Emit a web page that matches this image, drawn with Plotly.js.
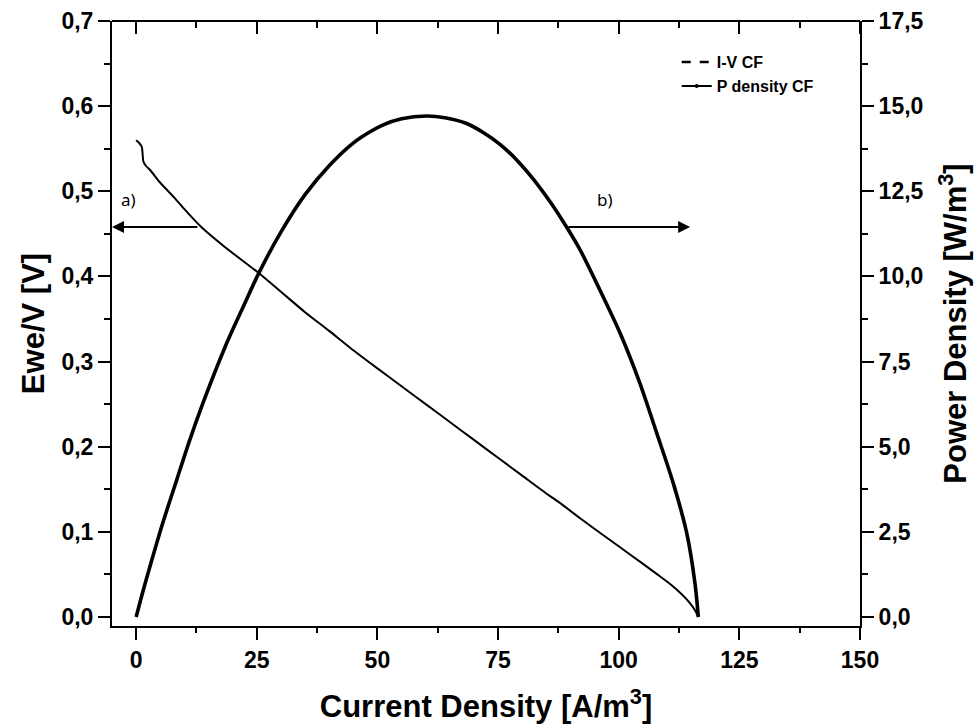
<!DOCTYPE html>
<html>
<head>
<meta charset="utf-8">
<script src="https://cdn.plot.ly/plotly-3.0.1.min.js"></script>
<style>html,body{margin:0;padding:0;background:#fff;}#chart{width:980px;height:728px;}</style>
</head>
<body>
<div id="chart"></div>
<script>
// I-V curve (Current density [A/m3], Ewe/V [V])
const ivCurrent = [0.0, 0.6, 1.18, 1.5, 2.0, 2.9, 5.0, 8.0, 10.0, 13.5, 18.5, 25.4, 30, 35, 40, 44.4, 50, 55, 60, 65, 70, 75, 80, 85, 87.8, 92, 96.1, 100, 104.4, 108, 110.6, 113, 114.5, 115.8, 116.5];
const ivVoltage = [0.560, 0.557, 0.552, 0.535, 0.530, 0.525, 0.510, 0.492, 0.479, 0.458, 0.434, 0.404, 0.382, 0.358, 0.336, 0.316, 0.292, 0.271, 0.250, 0.229, 0.208, 0.187, 0.166, 0.145, 0.134, 0.116, 0.099, 0.083, 0.065, 0.050, 0.039, 0.027, 0.018, 0.008, 0.000];

// Power density curve (Current density [A/m3], Power density [W/m3])
const pCurrent = [0, 1.5, 3.25, 5.5, 8.4, 11, 13.9, 18.5, 22, 25.4, 30, 35, 40, 44.4, 46.8, 51.2, 55, 60.2, 64, 68.5, 72, 75.4, 79, 82.3, 86, 89.2, 92.0, 96.1, 100.3, 104.4, 107.9, 111.3, 114.1, 115.8, 116.5];
const pDensity = [0, 0.8, 1.67, 2.75, 4.02, 5.15, 6.3, 7.95, 9.05, 10.09, 11.3, 12.4, 13.25, 13.85, 14.1, 14.45, 14.63, 14.71, 14.66, 14.49, 14.22, 13.88, 13.40, 12.86, 12.15, 11.45, 10.78, 9.60, 8.33, 6.86, 5.39, 3.93, 2.46, 0.99, 0];

const seriesNames = ["I-V CF", "P density CF"];
const arrowLabels = ["a)", "b)"];
const arrowLevel = 0.458;           // V level of both arrows
const arrowA = [13.0, -5];          // tail, head (current density)
const arrowB = [89.3, 114.8];       // tail, head
const xRange = [-5, 150];

const FONT = "Liberation Sans";
const tickFont = {family: FONT, size: 23, color: "#000", weight: "bold"};
const titleFont = {family: FONT, size: 31, color: "#000", weight: "bold"};

const traces = [
  {x: ivCurrent, y: ivVoltage, type: "scatter", mode: "lines", xaxis: "x2", yaxis: "y",
   line: {color: "#000", width: 2, shape: "spline", smoothing: 0.6}, showlegend: false, hoverinfo: "skip"},
  {x: pCurrent, y: pDensity, type: "scatter", mode: "lines", xaxis: "x", yaxis: "y2",
   line: {color: "#000", width: 3.6, shape: "spline", smoothing: 0.8}, showlegend: false, hoverinfo: "skip"},
  // carriers for the minor-tick axes
  {x: [null], y: [null], type: "scatter", mode: "lines", xaxis: "x3", yaxis: "y", showlegend: false, hoverinfo: "skip"},
  {x: [null], y: [null], type: "scatter", mode: "lines", xaxis: "x4", yaxis: "y", showlegend: false, hoverinfo: "skip"},
  // legend entries
  {x: [null], y: [null], type: "scatter", mode: "lines", name: seriesNames[0],
   line: {color: "#000", width: 2.5, dash: "dash"}, showlegend: true},
  {x: [null], y: [null], type: "scatter", mode: "lines+markers", name: seriesNames[1],
   line: {color: "#000", width: 2}, marker: {size: 4, color: "#000"}, showlegend: true}
];

const plainAxis = {showgrid: false, zeroline: false, tickcolor: "#000", tickwidth: 2};

const layout = {
  width: 980, height: 728,
  margin: {l: 112, r: 120, t: 21, b: 102},
  paper_bgcolor: "#fff", plot_bgcolor: "#fff",
  separators: ", ",
  font: {family: FONT, color: "#000"},
  xaxis: Object.assign({}, plainAxis, {
    range: xRange, tickmode: "linear", tick0: 0, dtick: 25,
    ticks: "outside", ticklen: 12,
    showline: true, linecolor: "#000", linewidth: 2,
    tickfont: tickFont,
    title: {text: "Current Density [A/m<sup>3</sup>]", font: titleFont, standoff: 24}
  }),
  // bottom minor ticks
  xaxis3: Object.assign({}, plainAxis, {
    range: xRange, overlaying: "x", anchor: "y", side: "bottom",
    tickmode: "linear", tick0: 12.5, dtick: 25,
    ticks: "outside", ticklen: 6, showticklabels: false, showline: false
  }),
  // top frame: a bottom-sided axis placed at the top, so its outside ticks point into the plot
  xaxis2: Object.assign({}, plainAxis, {
    range: xRange, overlaying: "x", anchor: "free", position: 1, side: "bottom",
    tickmode: "linear", tick0: 0, dtick: 25,
    ticks: "outside", ticklen: 12,
    showticklabels: false, showline: true, linecolor: "#000", linewidth: 2
  }),
  // top minor ticks
  xaxis4: Object.assign({}, plainAxis, {
    range: xRange, overlaying: "x", anchor: "free", position: 1, side: "bottom",
    tickmode: "linear", tick0: 12.5, dtick: 25,
    ticks: "outside", ticklen: 6, showticklabels: false, showline: false
  }),
  yaxis: Object.assign({}, plainAxis, {
    range: [-0.0106, 0.7], dtick: 0.1, tick0: 0, tickformat: ".1f",
    ticks: "outside", ticklen: 12,
    minor: {ticks: "outside", ticklen: 6, tickwidth: 2, tickcolor: "#000", dtick: 0.05, tick0: 0},
    showline: true, linecolor: "#000", linewidth: 2,
    tickfont: tickFont,
    title: {text: "Ewe/V [V]", font: titleFont, standoff: 8}
  }),
  yaxis2: Object.assign({}, plainAxis, {
    range: [-0.265, 17.5], dtick: 2.5, tick0: 0, tickformat: ".1f",
    overlaying: "y", side: "right", anchor: "x",
    ticks: "outside", ticklen: 12,
    minor: {ticks: "outside", ticklen: 6, tickwidth: 2, tickcolor: "#000", dtick: 1.25, tick0: 0},
    showline: true, linecolor: "#000", linewidth: 2,
    tickfont: tickFont,
    title: {text: "Power Density [W/m<sup>3</sup>]", font: titleFont, standoff: 22}
  }),
  legend: {
    x: 0.755, y: 0.96, xanchor: "left", yanchor: "top",
    bgcolor: "rgba(0,0,0,0)", borderwidth: 0,
    font: {family: FONT, size: 16, color: "#000", weight: "bold"},
    itemwidth: 30, tracegroupgap: 0
  },
  annotations: [
    {x: arrowA[1], y: arrowLevel, ax: arrowA[0], ay: arrowLevel, xref: "x", yref: "y", axref: "x", ayref: "y",
     showarrow: true, arrowhead: 2, arrowsize: 1.2, arrowwidth: 2, arrowcolor: "#000", text: ""},
    {x: arrowB[1], y: arrowLevel, ax: arrowB[0], ay: arrowLevel, xref: "x", yref: "y", axref: "x", ayref: "y",
     showarrow: true, arrowhead: 2, arrowsize: 1.2, arrowwidth: 2, arrowcolor: "#000", text: ""},
    {x: -3.5, y: arrowLevel + 0.016, xref: "x", yref: "y", xanchor: "left", yanchor: "bottom", showarrow: false,
     text: arrowLabels[0], font: {family: "Noto Sans, sans-serif", size: 17, color: "#000"}},
    {x: 95, y: arrowLevel + 0.016, xref: "x", yref: "y", xanchor: "left", yanchor: "bottom", showarrow: false,
     text: arrowLabels[1], font: {family: "Noto Sans, sans-serif", size: 17, color: "#000"}}
  ]
};

Plotly.newPlot("chart", traces, layout, {staticPlot: true, displayModeBar: false});
</script>
</body>
</html>
